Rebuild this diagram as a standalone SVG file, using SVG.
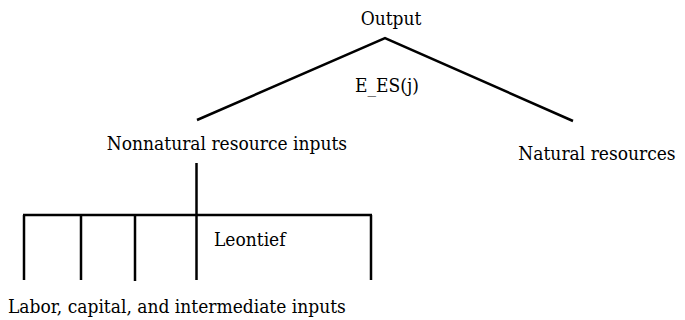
<svg xmlns="http://www.w3.org/2000/svg" width="685" height="320" viewBox="0 0 685 320">
<style>
text{font-family:'DejaVu Serif',serif;font-stretch:condensed;font-size:19px;fill:#000}
.c{fill:none;stroke:#000;stroke-width:2.5}
</style>
<rect width="685" height="320" fill="#fff"/>
<g id="connectors">
<polyline class="c" points="197,120 385,38 573,121"/>
<line class="c" x1="196.5" y1="163" x2="196.5" y2="280"/>
<line class="c" x1="23" y1="215" x2="372" y2="215"/>
<line class="c" x1="24" y1="215" x2="24" y2="280"/>
<line class="c" x1="81" y1="215" x2="81" y2="280"/>
<line class="c" x1="135" y1="215" x2="135" y2="281"/>
<line class="c" x1="371" y1="215" x2="371" y2="280"/>
</g>
<g id="output"><text x="391" y="25" text-anchor="middle">Output</text></g>
<g id="elasticity"><text x="387" y="92" text-anchor="middle">E_ES(j)</text></g>
<g id="nonnatural"><text x="227" y="150" text-anchor="middle">Nonnatural resource inputs</text></g>
<g id="natural"><text x="597" y="160" text-anchor="middle">Natural resources</text></g>
<g id="leontief"><text x="214" y="246">Leontief</text></g>
<g id="labor"><text x="8" y="313">Labor, capital, and intermediate inputs</text></g>
</svg>
